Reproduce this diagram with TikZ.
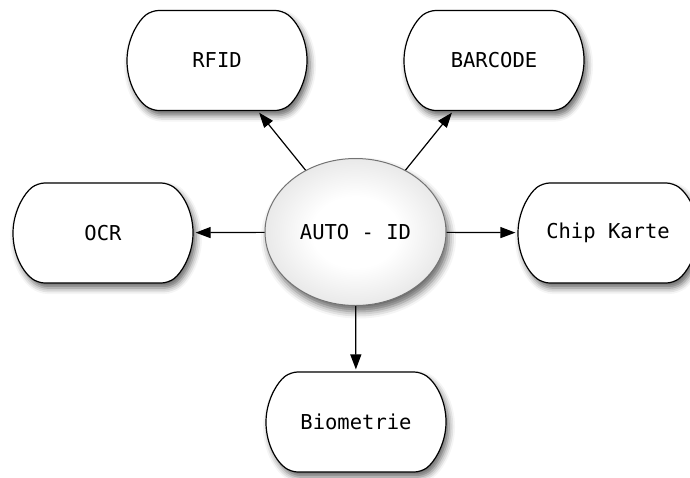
\documentclass[tikz,border=0pt]{standalone}
\usepackage{fontspec}
\setmonofont{DejaVu Sans Mono}
\usetikzlibrary{shapes.misc,shapes.geometric,arrows.meta,shadows.blur}
\pgfdeclareradialshading{hubshade}{\pgfpoint{0bp}{0bp}}{%
  color(0bp)=(white); color(12bp)=(white); color(30bp)=(white!88!black);
  color(45bp)=(white!78!black); color(50bp)=(white!74!black)}
\tikzset{
  box/.style={rounded rectangle, rounded rectangle arc length=105, rounded corners=7pt,
    draw=black, line width=1.2pt,
    fill=white, minimum width=180pt, minimum height=100pt, inner sep=0pt,
    blur shadow={shadow xshift=3pt, shadow yshift=-5pt, shadow blur radius=6pt, shadow opacity=60},
    font=\fontsize{20.5}{24}\selectfont\ttfamily},
  hub/.style={ellipse, draw=black!55, line width=1pt, minimum width=181pt, minimum height=147pt,
    inner sep=0pt, shading=hubshade,
    blur shadow={shadow xshift=3pt, shadow yshift=-6pt, shadow blur radius=7pt, shadow opacity=60},
    font=\fontsize{20.5}{24}\selectfont\ttfamily},
  link/.style={line width=1.2pt, -{Triangle[length=15pt,width=11pt]}, shorten >=2pt}
}
\begin{document}
\begin{tikzpicture}[x=1pt,y=-1pt]
\useasboundingbox (0,0) rectangle (690,477);
\node[box] (rfid) at (217,60.5) {RFID};
\node[box] (barcode) at (494,60.5) {BARCODE};
\node[box] (ocr) at (103,233) {OCR};
\node[box] (chip) at (608,233) {Chip Karte};
\node[box] (bio) at (356,422) {Biometrie};
\node[hub] (auto) at (355.5,232) {AUTO - ID};
\draw[link] (auto) -- (rfid);
\draw[link] (auto) -- (barcode);
\draw[link] (auto) -- (ocr);
\draw[link] (auto) -- (chip);
\draw[link] (auto) -- (bio);
\end{tikzpicture}
\end{document}
